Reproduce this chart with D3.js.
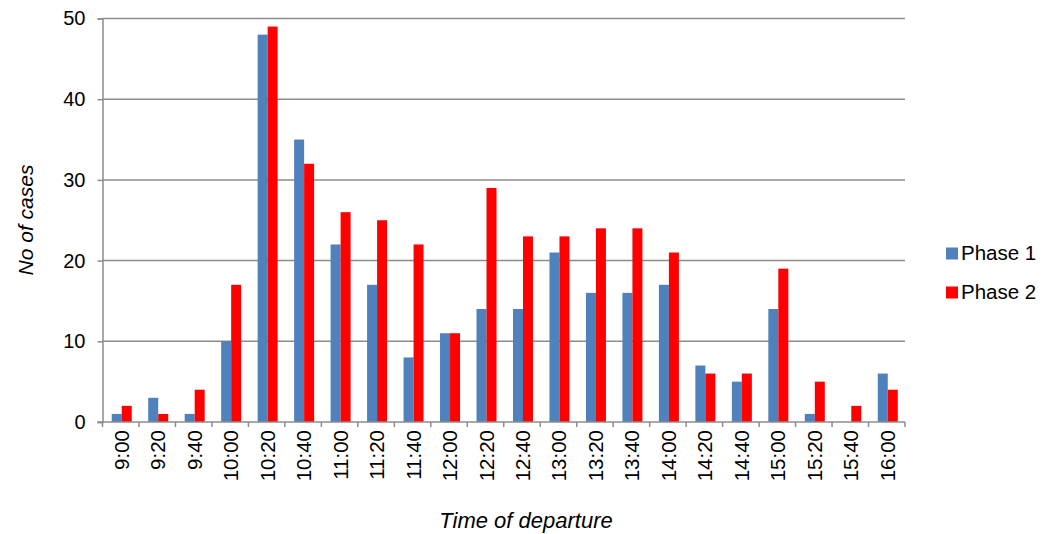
<!DOCTYPE html>
<html>
<head>
<meta charset="utf-8">
<script src="https://cdn.jsdelivr.net/npm/d3@7"></script>
<style>
  html, body { margin: 0; padding: 0; background: #fff; }
  svg { display: block; }
  text { font-family: "Liberation Sans", Arial, sans-serif; fill: #000; }
</style>
</head>
<body>
<svg id="chart" width="1054" height="534"></svg>
<script>
const categories = ["9:00","9:20","9:40","10:00","10:20","10:40","11:00","11:20","11:40","12:00","12:20","12:40","13:00","13:20","13:40","14:00","14:20","14:40","15:00","15:20","15:40","16:00"];
const phase1 = [1,3,1,10,48,35,22,17,8,11,14,14,21,16,16,17,7,5,14,1,0,6];
const phase2 = [2,1,4,17,49,32,26,25,22,11,29,23,23,24,24,21,6,6,19,5,2,4];
const seriesNames = ["Phase 1","Phase 2"];
const seriesColors = ["#4F81BD","#FF0000"];
const yTicks = [0,10,20,30,40,50];

const svg = d3.select("#chart");
const pLeft = 102.5, pRight = 905, pTop = 18.5, pBottom = 422;
const gridColor = "#8C8C8C";

const x = d3.scaleBand().domain(categories).range([pLeft, pRight]).paddingInner(0).paddingOuter(0);
const y = d3.scaleLinear().domain([0, 50]).range([pBottom, pTop]);

// gridlines
svg.append("g").selectAll("line").data(yTicks.filter(d => d > 0)).join("line")
  .attr("x1", pLeft).attr("x2", pRight)
  .attr("y1", d => y(d)).attr("y2", d => y(d))
  .attr("stroke", gridColor).attr("stroke-width", 1.5);

// bars
const barW = 10;
const series = [phase1, phase2];
series.forEach((vals, si) => {
  svg.append("g").selectAll("rect").data(vals).join("rect")
    .attr("x", (d, i) => x(categories[i]) + x.bandwidth() / 2 - barW + si * barW + 1)
    .attr("width", barW)
    .attr("y", d => y(d))
    .attr("height", d => pBottom - y(d))
    .attr("fill", seriesColors[si]);
});

// y axis
const yAxis = d3.axisLeft(y).tickValues(yTicks).tickSize(5).tickPadding(12);
const gy = svg.append("g").attr("transform", `translate(${pLeft},0)`).call(yAxis);
gy.select(".domain").attr("stroke", gridColor).attr("stroke-width", 1.5);
gy.selectAll(".tick line").attr("stroke", gridColor).attr("stroke-width", 1.5);
gy.selectAll(".tick text").attr("font-size", "20px").attr("fill", "#000");

// x axis line + ticks at category boundaries
svg.append("line").attr("x1", pLeft - 5).attr("x2", pRight).attr("y1", pBottom).attr("y2", pBottom)
  .attr("stroke", gridColor).attr("stroke-width", 1.5);
const boundaries = categories.map(c => x(c)).concat([pRight]);
svg.append("g").selectAll("line").data(boundaries).join("line")
  .attr("x1", d => d).attr("x2", d => d).attr("y1", pBottom).attr("y2", pBottom + 5)
  .attr("stroke", gridColor).attr("stroke-width", 1.5);

// x tick labels (rotated)
svg.append("g").selectAll("text").data(categories).join("text")
  .attr("transform", d => `translate(${x(d) + x.bandwidth() / 2 + 8},${pBottom + 8}) rotate(-90)`)
  .attr("text-anchor", "end")
  .attr("font-size", "20.5px")
  .text(d => d);

// axis titles
svg.append("text")
  .attr("transform", "translate(33,220) rotate(-90)")
  .attr("text-anchor", "middle")
  .attr("font-size", "21px").attr("font-style", "italic")
  .text("No of cases");
svg.append("text")
  .attr("x", 526).attr("y", 528)
  .attr("text-anchor", "middle")
  .attr("font-size", "22px").attr("font-style", "italic")
  .text("Time of departure");

// legend
const lg = svg.append("g").selectAll("g").data(seriesNames).join("g")
  .attr("transform", (d, i) => `translate(946,${247.5 + i * 39})`);
lg.append("rect").attr("width", 12).attr("height", 12).attr("fill", (d, i) => seriesColors[i]);
lg.append("text").attr("x", 15).attr("y", 12.5).attr("font-size", "20.5px").text(d => d);
</script>
</body>
</html>
